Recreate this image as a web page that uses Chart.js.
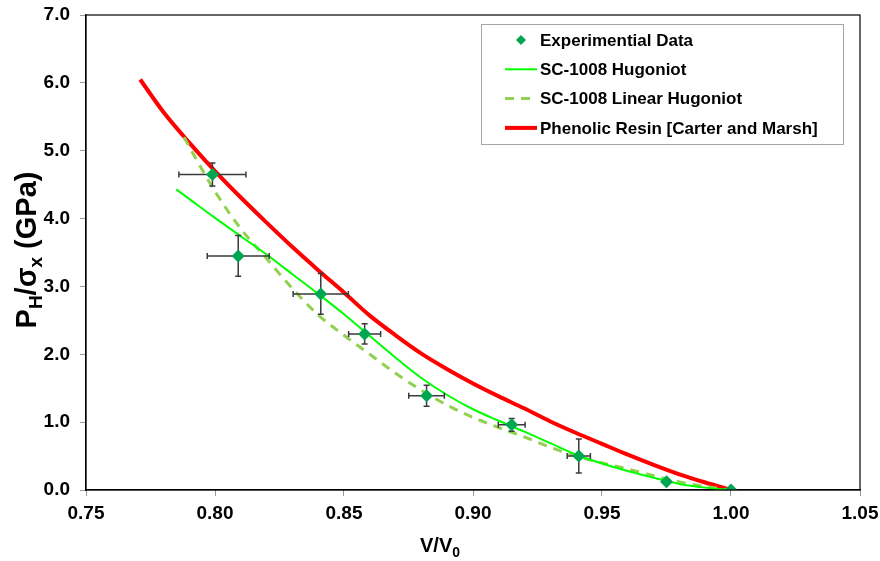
<!DOCTYPE html>
<html>
<head>
<meta charset="utf-8">
<script src="https://cdn.jsdelivr.net/npm/chart.js@4/dist/chart.umd.min.js"></script>
<style>
  html, body { margin: 0; padding: 0; background: #fff; }
  #wrap { width: 880px; height: 561px; }
</style>
</head>
<body>
<div id="wrap"><canvas id="chart" width="880" height="561"></canvas></div>
<script>
// experimental points (V/V0, P)
const expV = [0.799, 0.809, 0.841, 0.858, 0.882, 0.915, 0.941, 0.975, 1.000];
const expP = [4.65, 3.45, 2.89, 2.30, 1.39, 0.96, 0.50, 0.12, 0.00];
const expVErr = [0.013, 0.012, 0.0107, 0.0062, 0.0069, 0.0052, 0.0045, 0, 0];
const expPErr = [0.17, 0.30, 0.30, 0.15, 0.155, 0.095, 0.25, 0, 0];

// SC-1008 Hugoniot
const hugV = [0.785, 0.79, 0.80, 0.81, 0.82, 0.83, 0.84, 0.85, 0.86, 0.87, 0.88, 0.89,
              0.90, 0.91, 0.92, 0.93, 0.94, 0.95, 0.96, 0.97, 0.98, 0.99, 1.00];
const hugP = [4.43, 4.29, 4.01, 3.74, 3.47, 3.18, 2.89, 2.59, 2.27, 1.95, 1.65, 1.40,
              1.19, 1.02, 0.86, 0.69, 0.52, 0.39, 0.28, 0.18, 0.09, 0.035, 0.00];

// SC-1008 linear Hugoniot
const linV = [0.788, 0.79, 0.80, 0.81, 0.82, 0.83, 0.84, 0.85, 0.86, 0.87, 0.88, 0.89,
              0.90, 0.91, 0.92, 0.93, 0.94, 0.95, 0.96, 0.97, 0.98, 0.99, 1.00];
const linP = [5.20, 5.06, 4.40, 3.85, 3.41, 2.97, 2.58, 2.28, 2.00, 1.72, 1.47, 1.25,
              1.07, 0.92, 0.78, 0.63, 0.50, 0.40, 0.31, 0.21, 0.12, 0.05, 0.00];

// Phenolic resin (Carter and Marsh)
const resinV = [0.771, 0.78, 0.79, 0.80, 0.81, 0.82, 0.83, 0.84, 0.85, 0.86, 0.87, 0.88,
                0.89, 0.90, 0.91, 0.92, 0.93, 0.94, 0.95, 0.96, 0.97, 0.98, 0.99, 1.00];
const resinP = [6.05, 5.57, 5.12, 4.70, 4.31, 3.94, 3.58, 3.24, 2.91, 2.57, 2.28, 2.01,
                1.78, 1.57, 1.38, 1.20, 1.01, 0.84, 0.68, 0.52, 0.37, 0.23, 0.11, 0.00];

const xTicks = [0.75, 0.80, 0.85, 0.90, 0.95, 1.00, 1.05];
const yTicks = [0, 1, 2, 3, 4, 5, 6, 7];

const pts = (xs, ys) => xs.map((x, i) => ({ x: x, y: ys[i] }));
const FONT = '"Liberation Sans", Arial, Helvetica, sans-serif';

// error bars, drawn just before the point dataset
const errorBars = {
  id: 'errorBars',
  beforeDatasetDraw(chart, args) {
    if (args.index !== 0) return;
    const { ctx, scales: { x, y } } = chart;
    ctx.save();
    ctx.strokeStyle = '#3a3a3a';
    ctx.lineWidth = 1.5;
    const cap = 3;
    expV.forEach((v, i) => {
      const px = x.getPixelForValue(v);
      const py = y.getPixelForValue(expP[i]);
      if (expVErr[i] > 0) {
        const x1 = x.getPixelForValue(v - expVErr[i]);
        const x2 = x.getPixelForValue(v + expVErr[i]);
        ctx.beginPath();
        ctx.moveTo(x1, py); ctx.lineTo(x2, py);
        ctx.moveTo(x1, py - cap); ctx.lineTo(x1, py + cap);
        ctx.moveTo(x2, py - cap); ctx.lineTo(x2, py + cap);
        ctx.stroke();
      }
      if (expPErr[i] > 0) {
        const y1 = y.getPixelForValue(expP[i] + expPErr[i]);
        const y2 = y.getPixelForValue(expP[i] - expPErr[i]);
        ctx.beginPath();
        ctx.moveTo(px, y1); ctx.lineTo(px, y2);
        ctx.moveTo(px - cap, y1); ctx.lineTo(px + cap, y1);
        ctx.moveTo(px - cap, y2); ctx.lineTo(px + cap, y2);
        ctx.stroke();
      }
    });
    ctx.restore();
  }
};

// frame, axis titles and the boxed legend
const decorations = {
  id: 'decorations',
  afterDraw(chart) {
    const { ctx, chartArea: a } = chart;
    ctx.save();
    ctx.strokeStyle = '#000';
    ctx.lineWidth = 1.2;
    ctx.strokeRect(a.left, a.top, a.right - a.left, a.bottom - a.top);

    ctx.fillStyle = '#000';
    ctx.textBaseline = 'alphabetic';

    // x title: V/V0
    const cx = (a.left + a.right) / 2 - 33;
    ctx.font = 'bold 20px ' + FONT;
    const w1 = ctx.measureText('V/V').width;
    ctx.font = 'bold 14px ' + FONT;
    const w2 = ctx.measureText('0').width;
    let sx = cx - (w1 + w2) / 2;
    ctx.font = 'bold 20px ' + FONT;
    ctx.textAlign = 'left';
    ctx.fillText('V/V', sx, 552);
    ctx.font = 'bold 14px ' + FONT;
    ctx.fillText('0', sx + w1, 557);

    // y title: PH/σx (GPa), rotated
    const parts = [
      ['P', false], ['H', true], ['/σ', false], ['x', true], [' (GPa)', false]
    ];
    const big = 'bold 29px ' + FONT, small = 'bold 19px ' + FONT;
    let total = 0;
    parts.forEach(([t, sub]) => {
      ctx.font = sub ? small : big;
      total += ctx.measureText(t).width;
    });
    ctx.translate(36, 250);
    ctx.rotate(-Math.PI / 2);
    let tx = -total / 2;
    parts.forEach(([t, sub]) => {
      ctx.font = sub ? small : big;
      ctx.fillText(t, tx, sub ? 6 : 0);
      tx += ctx.measureText(t).width;
    });
    ctx.restore();

    // legend box
    ctx.save();
    const lx = a.right - 379, ly = a.top + 9, lw = 362, lh = 120;
    ctx.fillStyle = '#fff';
    ctx.fillRect(lx, ly, lw, lh);
    ctx.strokeStyle = '#a6a6a6';
    ctx.lineWidth = 1;
    ctx.strokeRect(lx + 0.5, ly + 0.5, lw, lh);
    ctx.font = 'bold 17px ' + FONT;
    ctx.textBaseline = 'middle';
    ctx.textAlign = 'left';
    chart.data.datasets.forEach((ds, i) => {
      const ry = ly + 16 + i * 29.3;
      const mx1 = lx + 24, mx2 = lx + 56;
      if (ds.showLine) {
        ctx.strokeStyle = ds.borderColor;
        ctx.lineWidth = ds.borderWidth;
        ctx.setLineDash(ds.borderDash || []);
        ctx.beginPath();
        ctx.moveTo(mx1, ry); ctx.lineTo(mx2, ry);
        ctx.stroke();
        ctx.setLineDash([]);
      } else {
        const cxm = (mx1 + mx2) / 2, r = 5;
        ctx.fillStyle = ds.backgroundColor;
        ctx.beginPath();
        ctx.moveTo(cxm, ry - r); ctx.lineTo(cxm + r, ry);
        ctx.lineTo(cxm, ry + r); ctx.lineTo(cxm - r, ry);
        ctx.closePath();
        ctx.fill();
      }
      ctx.fillStyle = '#000';
      ctx.fillText(ds.label, lx + 59, ry + 1);
    });
    ctx.restore();
  }
};

new Chart(document.getElementById('chart').getContext('2d'), {
  type: 'scatter',
  data: {
    datasets: [
      {
        label: 'Experimential Data',
        data: pts(expV, expP),
        pointStyle: 'rectRot',
        pointRadius: 6.5,
        backgroundColor: '#00a650',
        borderColor: '#00a650',
        borderWidth: 0,
        showLine: false
      },
      {
        label: 'SC-1008 Hugoniot',
        data: pts(hugV, hugP),
        showLine: true,
        borderColor: '#00ff00',
        borderWidth: 2,
        pointRadius: 0,
        cubicInterpolationMode: 'monotone'
      },
      {
        label: 'SC-1008 Linear Hugoniot',
        data: pts(linV, linP),
        showLine: true,
        borderColor: '#92d050',
        borderWidth: 3,
        borderDash: [9, 7],
        pointRadius: 0,
        cubicInterpolationMode: 'monotone'
      },
      {
        label: 'Phenolic Resin [Carter and Marsh]',
        data: pts(resinV, resinP),
        showLine: true,
        borderColor: '#ff0000',
        borderWidth: 4,
        pointRadius: 0,
        cubicInterpolationMode: 'monotone'
      }
    ]
  },
  options: {
    responsive: false,
    devicePixelRatio: 1,
    animation: false,
    layout: { padding: { top: 15, right: 20, left: 0, bottom: 0 }, autoPadding: false },
    plugins: {
      legend: { display: false },
      tooltip: { enabled: false }
    },
    scales: {
      x: {
        type: 'linear',
        min: 0.75,
        max: 1.05,
        afterBuildTicks: s => { s.ticks = xTicks.map(v => ({ value: v })); },
        afterFit: s => { s.height = 71; s.paddingLeft = 0; s.paddingRight = 0; },
        ticks: {
          callback: v => Number(v).toFixed(2),
          color: '#000',
          font: { family: FONT, size: 19, weight: 'bold' },
          padding: 6,
          maxRotation: 0
        },
        grid: { drawOnChartArea: false, tickLength: 6, color: '#999' },
        border: { color: '#000', width: 1.2 }
      },
      y: {
        min: 0,
        max: 7,
        afterBuildTicks: s => { s.ticks = yTicks.map(v => ({ value: v })); },
        afterFit: s => { s.width = 86; s.paddingTop = 0; s.paddingBottom = 0; },
        ticks: {
          callback: v => Number(v).toFixed(1),
          color: '#000',
          font: { family: FONT, size: 19, weight: 'bold' },
          padding: 10
        },
        grid: { drawOnChartArea: false, tickLength: 6, color: '#999' },
        border: { color: '#000', width: 1.2 }
      }
    }
  },
  plugins: [errorBars, decorations]
});
</script>
</body>
</html>
